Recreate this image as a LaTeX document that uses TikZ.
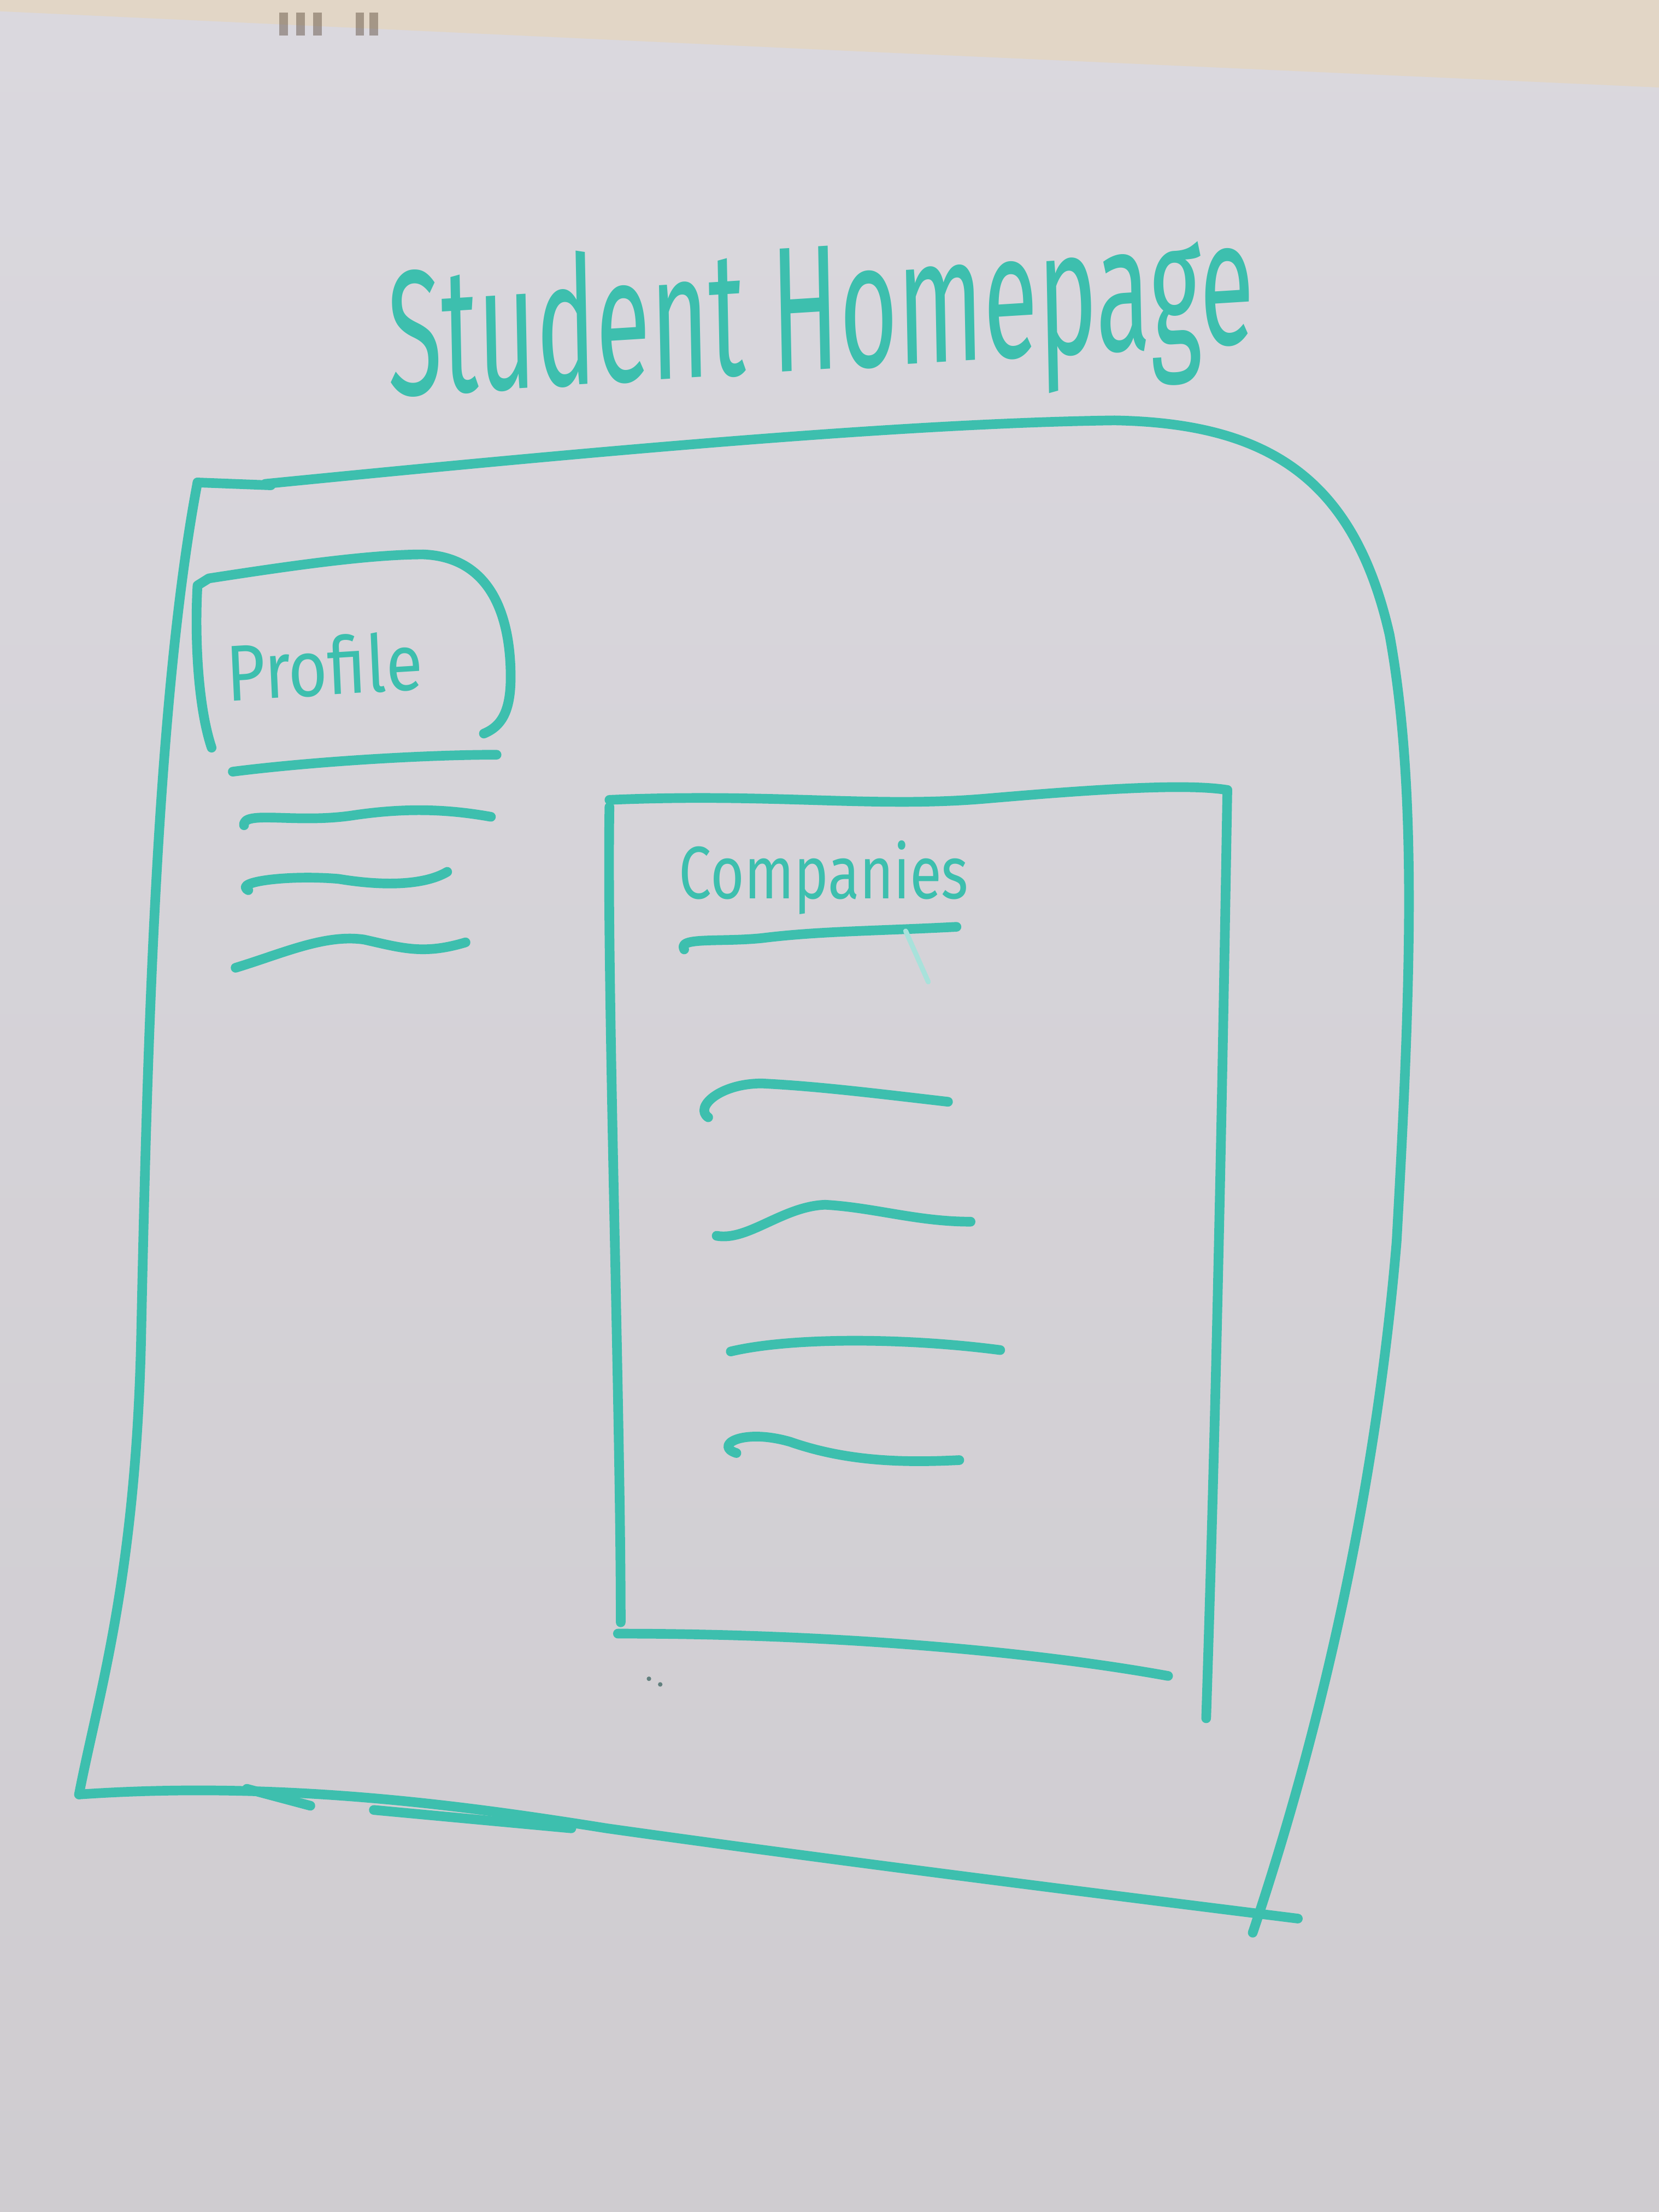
\documentclass[tikz,border=0pt]{standalone}
\usepackage{fontspec}
\setmainfont{Fira Sans}
\usetikzlibrary{shadings}
\definecolor{boardtop}{HTML}{DAD8DE}
\definecolor{boardbot}{HTML}{CFCCD0}
\definecolor{wall}{HTML}{E2D6C6}
\definecolor{marker}{HTML}{3DBFAE}
\definecolor{smudge}{HTML}{5A4A3A}
\tikzset{
  pen/.style={draw=marker, line width=3.9pt, line cap=round, line join=round},
  thinpen/.style={draw=marker!45, line width=2pt, line cap=round},
  hand/.style={text=marker, inner sep=0pt, font=\fontsize{#1}{#1}\selectfont},
}
\begin{document}
\begin{tikzpicture}[x=0.02cm, y=-0.02cm]
% whiteboard surface and the wall strip above it
\shade[top color=boardtop, bottom color=boardbot] (0,0) rectangle (1176,1568);
\useasboundingbox (0,0) rectangle (1176,1568);
\fill[wall] (0,0) -- (1176,0) -- (1176,62) -- (600,36) -- (0,8) -- cycle;
\foreach \sx in {198,210,222,252,262} {
  \fill[smudge, opacity=0.45] (\sx,9) rectangle ++(6,16);
}

% title
\node[hand=72, xscale=0.56, rotate=2] (title) at (582,228) {Student Homepage};

% outer page frame
\draw[pen] (188,343) .. controls (420,320) and (640,300) .. (790,298)
  .. controls (900,300) and (960,340) .. (985,450)
  .. controls (1005,560) and (1000,700) .. (990,880)
  .. controls (975,1060) and (935,1230) .. (888,1370);
\draw[pen] (140,342) -- (192,344);
\draw[pen] (140,342) .. controls (110,500) and (104,760) .. (100,950)
  .. controls (96,1120) and (70,1200) .. (56,1272);
\draw[pen] (56,1272) .. controls (200,1262) and (330,1280) .. (430,1296)
  .. controls (600,1320) and (800,1345) .. (920,1360);
\draw[pen] (175,1268) -- (220,1280);
\draw[pen] (265,1283) -- (405,1296);

% profile card
\draw[pen] (150,530) .. controls (140,500) and (138,450) .. (140,415)
  -- (148,410) .. controls (200,402) and (260,393) .. (300,393)
  .. controls (350,395) and (362,440) .. (362,480)
  .. controls (362,505) and (355,515) .. (343,520);
\node[hand=32, xscale=0.85, rotate=3] (profile) at (230,472) {Profile};
\draw[pen] (165,547) .. controls (220,540) and (300,535) .. (352,535);
\draw[pen] (173,585) .. controls (172,574) and (210,584) .. (250,578)
  .. controls (290,572) and (320,574) .. (348,579);
\draw[pen] (176,631) .. controls (165,625) and (205,620) .. (240,623)
  .. controls (270,628) and (300,628) .. (317,618);
\draw[pen] (167,686) .. controls (200,676) and (230,662) .. (258,666)
  .. controls (285,672) and (300,677) .. (330,668);

% companies panel
\draw[pen] (432,567) .. controls (550,562) and (620,573) .. (700,566)
  .. controls (770,560) and (840,555) .. (870,560);
\draw[pen] (432,572) .. controls (430,700) and (440,1000) .. (440,1150);
\draw[pen] (870,560) .. controls (866,800) and (862,1000) .. (855,1218);
\draw[pen] (438,1158) .. controls (600,1158) and (740,1172) .. (828,1188);
\node[hand=30, xscale=0.78] (companies) at (584,622) {Companies};
\draw[pen] (485,673) .. controls (480,664) and (510,668) .. (540,665)
  .. controls (580,660) and (620,660) .. (678,657);
\draw[thinpen] (642,660) -- (658,696);
\draw[pen] (502,792) .. controls (492,785) and (510,768) .. (540,768)
  .. controls (580,770) and (620,775) .. (672,781);
\draw[pen] (508,876) .. controls (530,880) and (555,855) .. (585,854)
  .. controls (620,856) and (650,866) .. (688,866);
\draw[pen] (518,958) .. controls (560,948) and (640,948) .. (709,957);
\draw[pen] (522,1030) .. controls (506,1025) and (525,1012) .. (560,1022)
  .. controls (600,1036) and (640,1037) .. (680,1035);
\fill[marker!40!black, opacity=0.6] (460,1190) circle (1.6) (468,1194) circle (1.6);
\end{tikzpicture}
\end{document}
